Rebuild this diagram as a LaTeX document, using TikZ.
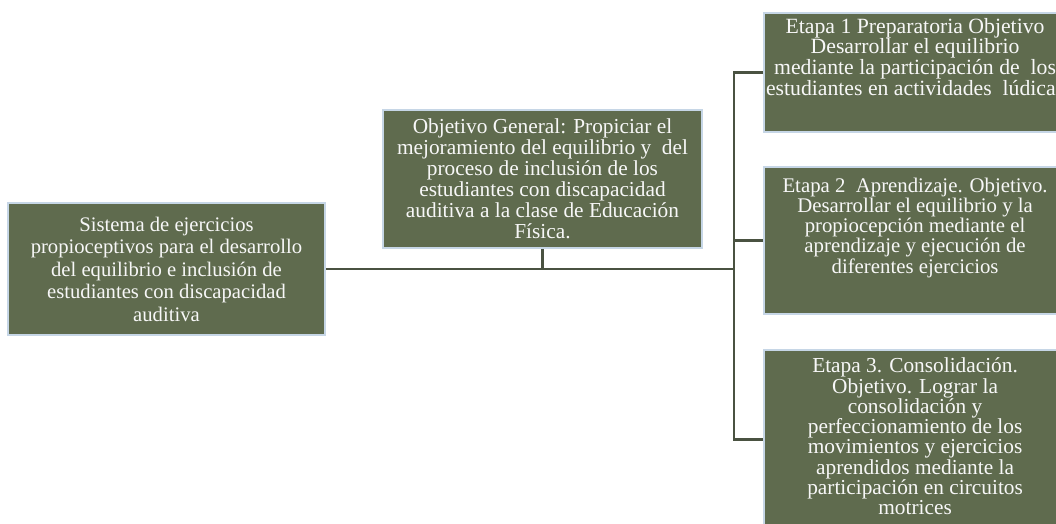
\documentclass[tikz,border=0pt]{standalone}
\usepackage{fontspec}
\setmainfont{Liberation Serif}
\definecolor{boxfill}{HTML}{5F6B4E}
\definecolor{boxedge}{HTML}{C6D6E6}
\definecolor{linkgreen}{HTML}{4A5241}
\newdimen\pxu \pxu=0.75pt

\begin{document}
\begin{tikzpicture}[x=0.75pt, y=-0.75pt,
  box/.style={draw=boxedge, fill=boxfill, line width=1.6pt, text=white!94!gray,
              align=center, inner sep=0pt},
  stage/.style={box, anchor=north west, minimum width=302*\pxu},
  link/.style={draw=linkgreen, line width=2.2pt},
]
\useasboundingbox (0,0) rectangle (1056,524);
\clip (0,0) rectangle (1056,524);

% root and goal
\node[box, minimum width=317*\pxu, minimum height=132*\pxu,
      font=\fontsize{15.5}{16.9}\selectfont] (sys) at (166.5,269)
  {Sistema de ejercicios\\propioceptivos para el desarrollo\\del equilibrio e inclusión de\\estudiantes con discapacidad\\auditiva};
\node[box, minimum width=319*\pxu, minimum height=138*\pxu,
      font=\fontsize{16}{15.8}\selectfont] (obj) at (542.5,179)
  {Objetivo General: Propiciar el\\mejoramiento del equilibrio y~ del\\proceso de inclusión de los\\estudiantes con discapacidad\\auditiva a la clase de Educación\\Física.};

% stages
\node[stage, font=\fontsize{16.3}{14.8}\selectfont] (et1) at (763,12)
  {\parbox[t][119\pxu][t]{296\pxu}{\centering\vspace*{4pt}
   Etapa 1 Preparatoria Objetivo\\Desarrollar el equilibrio\\mediante la participación de~ los\\\makebox[0pt]{estudiantes en actividades~ lúdicas}}};
\node[stage, font=\fontsize{15.6}{13.8}\selectfont] (et2) at (763,166)
  {\parbox[t][147\pxu][t]{302\pxu}{\centering\vspace*{8pt}
   Etapa 2~ Aprendizaje. Objetivo.\\Desarrollar el equilibrio y la\\propiocepción mediante el\\aprendizaje y ejecución de\\diferentes ejercicios}};
\node[stage, font=\fontsize{16}{15.2}\selectfont] (et3) at (763,349)
  {\parbox[t][178\pxu][t]{302\pxu}{\centering\vspace*{6pt}
   Etapa 3. Consolidación.\\Objetivo. Lograr la\\consolidación y\\perfeccionamiento de los\\movimientos y ejercicios\\aprendidos mediante la\\participación en circuitos\\motrices}};

% connectors
\coordinate (hub) at (734,269);
\draw[link] (sys.east) -- (hub);
\draw[link] (obj.south) -- (obj.south |- hub);
\draw[link] (et1.west) -| (hub) |- (et3.west);
\draw[link] (et2.west) -- (et2.west -| hub);

\end{tikzpicture}
\end{document}
